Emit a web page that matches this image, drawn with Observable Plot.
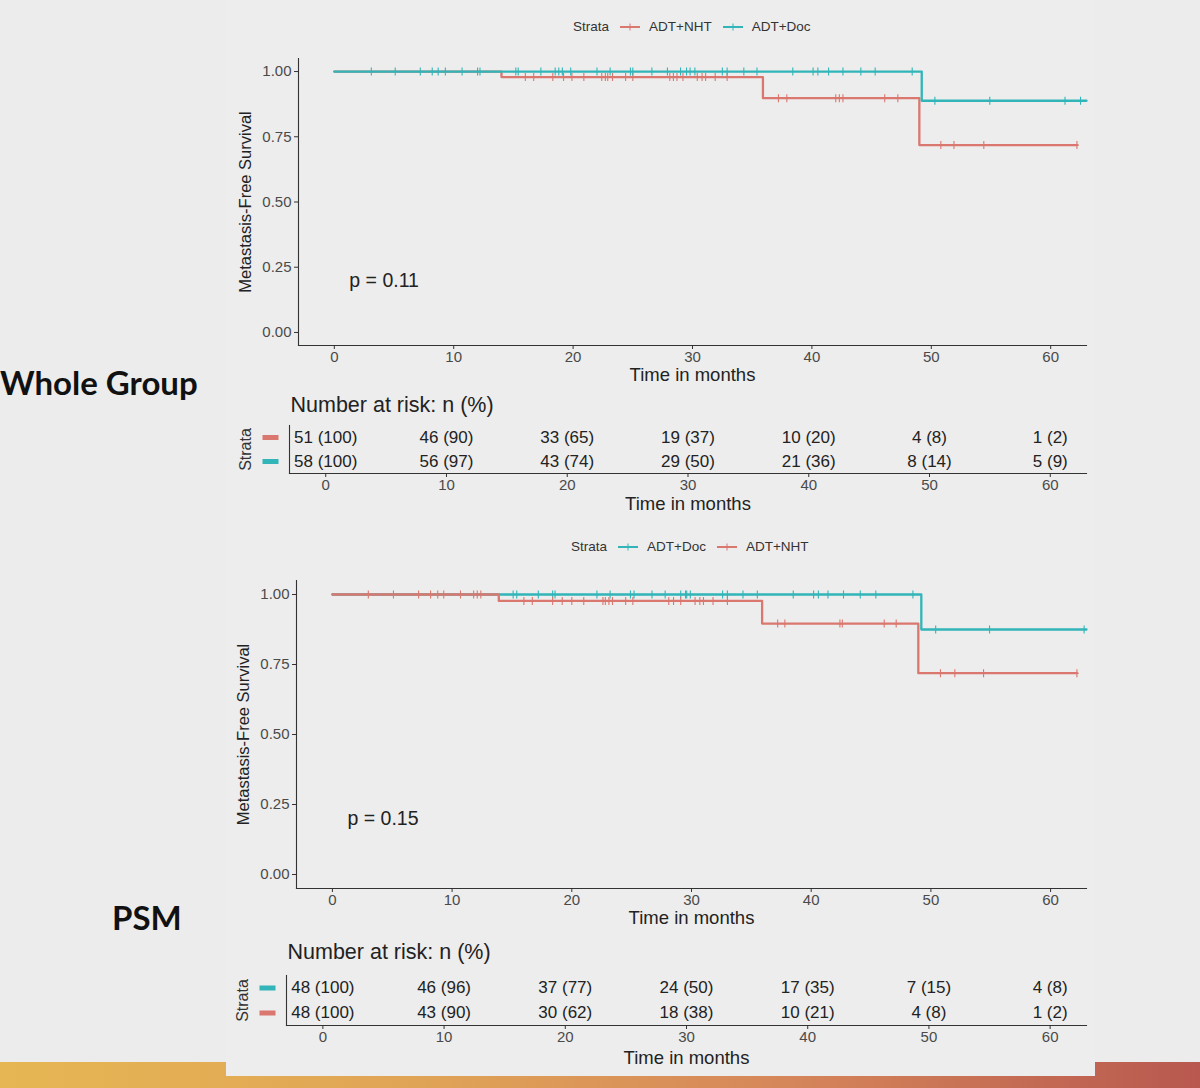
<!DOCTYPE html>
<html>
<head>
<meta charset="utf-8">
<script src="https://cdn.jsdelivr.net/npm/d3@7"></script>
<script src="https://cdn.jsdelivr.net/npm/@observablehq/plot@0.6"></script>
<style>
  body { margin: 0; background: #ececec; }
  #slide { position: relative; width: 1200px; height: 1088px; overflow: hidden; background: #ececec;
           font-family: "Liberation Sans", Arial, sans-serif; }
  .abs { position: absolute; }
  .bar { left: 0; top: 1062px; width: 1200px; height: 26px;
         background: linear-gradient(90deg, #e6b653 0%, #e0a456 35%, #d6875a 65%, #b8584f 100%); }
  .panel { left: 226px; top: 0; width: 869px; height: 1076px; background: #ededed; }
  .group { font-family: Lato, "Open Sans", sans-serif; font-weight: 700; font-size: 33px; color: #111;
           line-height: 40px; white-space: nowrap; }
  .legend { display: flex; align-items: center; font-size: 13.5px; color: #333; line-height: 16px; white-space: nowrap; }
  .legend svg { margin: 0 9px 0 11px; }
</style>
</head>
<body>
<div id="slide">
  <div class="abs bar"></div>
  <div class="abs panel"></div>
</div>
<script>
// ---- shared settings ----
const strataNames = ["ADT+NHT", "ADT+Doc"];
const strataColors = ["#da776f", "#31b5b8"];
const timeTicks = [0, 10, 20, 30, 40, 50, 60];
const survivalTicks = [0, 0.25, 0.5, 0.75, 1];

// ---- Whole group: Kaplan–Meier steps (event time -> survival after event) ----
const wgNhtEventTimes = [14.0, 35.9, 49.0];
const wgNhtSurvival = [0.979, 0.898, 0.718];
const wgNhtLastFollowUp = 62.2;
const wgNhtCensored = [16.0, 16.7, 18.3, 19.2, 19.9, 20.9, 22.4, 22.7, 22.9, 23.3, 24.4, 25.0,
  28.1, 28.4, 28.7, 29.2, 30.4, 30.8, 31.1, 31.9, 32.9, 37.2, 37.9, 42.0, 42.3, 42.6, 46.1, 47.2,
  50.8, 51.9, 54.4, 62.2];
const wgDocEventTimes = [49.2];
const wgDocSurvival = [0.888];
const wgDocLastFollowUp = 63.0;
const wgDocCensored = [3.1, 5.1, 7.2, 8.2, 8.7, 9.3, 10.7, 12.0, 12.2, 15.2, 15.4, 17.3, 18.5, 18.8,
  19.1, 19.8, 22.0, 23.1, 24.8, 25.0, 26.6, 27.9, 29.0, 29.5, 29.8, 30.2, 32.5, 32.9, 34.3, 35.4,
  38.4, 40.1, 40.5, 41.4, 42.6, 44.1, 45.3, 48.4, 50.3, 54.9, 61.2, 62.5];
const wgPValue = "p = 0.11";
const wgRiskNhtN = [51, 46, 33, 19, 10, 4, 1];
const wgRiskNhtPct = [100, 90, 65, 37, 20, 8, 2];
const wgRiskDocN = [58, 56, 43, 29, 21, 8, 5];
const wgRiskDocPct = [100, 97, 74, 50, 36, 14, 9];

// ---- Propensity-score matched cohort ----
const psmNhtEventTimes = [13.9, 35.9, 48.95];
const psmNhtSurvival = [0.977, 0.896, 0.719];
const psmNhtLastFollowUp = 62.2;
const psmNhtCensored = [3.0, 5.1, 7.2, 8.2, 8.8, 9.3, 10.7, 11.8, 12.1, 12.4, 16.0, 16.7, 18.4, 19.2,
  20.0, 21.0, 22.6, 22.8, 23.1, 23.4, 24.5, 25.1, 28.1, 28.5, 29.1, 30.3, 30.7, 31.0, 31.8, 33.0,
  37.2, 37.8, 42.4, 42.6, 46.1, 47.1, 50.8, 52.0, 54.4, 62.2];
const psmDocEventTimes = [49.2];
const psmDocSurvival = [0.875];
const psmDocLastFollowUp = 63.0;
const psmDocCensored = [15.1, 15.4, 17.2, 18.4, 18.6, 22.1, 23.2, 24.9, 25.2, 26.7, 27.8, 29.1, 29.5,
  29.6, 29.9, 32.6, 33.0, 34.3, 35.5, 38.5, 40.2, 40.6, 41.4, 42.7, 44.1, 45.4, 48.5, 50.4, 54.9, 62.8];
const psmPValue = "p = 0.15";
const psmRiskDocN = [48, 46, 37, 24, 17, 7, 4];
const psmRiskDocPct = [100, 96, 77, 50, 35, 15, 8];
const psmRiskNhtN = [48, 43, 30, 18, 10, 4, 1];
const psmRiskNhtPct = [100, 90, 62, 38, 21, 8, 2];

// ---- helpers ----
const slide = document.getElementById("slide");
const colorScale = {domain: strataNames, range: strataColors};
const span = timeTicks[timeTicks.length - 1] - timeTicks[0];
const timeDomain = [timeTicks[0] - 0.05 * span, timeTicks[timeTicks.length - 1] + 0.05 * span];
const survDomain = [-0.05, 1.05];
const font = "'Liberation Sans', Arial, sans-serif";

// "+" censor glyph and a flat bar swatch, as d3-style symbol objects
const censorSymbol = {draw(ctx, size) {
  const r = Math.sqrt(size / Math.PI);
  ctx.moveTo(0, -r); ctx.lineTo(0, r);
  ctx.moveTo(-r * 0.5, 0); ctx.lineTo(r * 0.5, 0);
}};
const barSymbol = {draw(ctx) { ctx.rect(-8, -2.5, 16, 5); }};

function survivalAt(t, events, surv) {
  let s = 1;
  events.forEach((e, i) => { if (t >= e) s = surv[i]; });
  return s;
}

function curve(name, events, surv, last, censored) {
  const steps = [{t: 0, s: 1, strata: name}]
    .concat(events.map((t, i) => ({t, s: surv[i], strata: name})))
    .concat([{t: last, s: surv[surv.length - 1], strata: name}]);
  const marks = censored.map(t => ({t, s: survivalAt(t, events, surv), strata: name}));
  return {steps, marks};
}

function place(node, top, left = 0) {
  const d = document.createElement("div");
  d.className = "abs";
  d.style.top = top + "px";
  d.style.left = left + "px";
  d.appendChild(node);
  slide.appendChild(d);
}

function legend(order, top, left) {
  const d = document.createElement("div");
  d.className = "abs legend";
  d.style.top = top + "px";
  d.style.left = left + "px";
  let html = "<span>Strata</span>";
  order.forEach(name => {
    const c = strataColors[strataNames.indexOf(name)];
    html += `<svg width="20" height="10"><line x1="0" x2="20" y1="5" y2="5" stroke="${c}" stroke-width="2"/>` +
            `<line x1="10" x2="10" y1="1.5" y2="8.5" stroke="${c}" stroke-width="1"/></svg><span>${name}</span>`;
  });
  d.innerHTML = html;
  slide.appendChild(d);
}

function groupLabel(text, top, style) {
  const d = document.createElement("div");
  d.className = "abs group";
  d.style.top = top + "px";
  Object.assign(d.style, style);
  d.textContent = text;
  slide.appendChild(d);
}

function kmPlot({curves, pValue, height, margins}) {
  const maxTime = d3.max(curves, c => d3.max(c.steps, d => d.t));
  const marks = [
    Plot.frame({anchor: "left", stroke: "#333", strokeWidth: 1.1}),
    Plot.frame({anchor: "bottom", stroke: "#333", strokeWidth: 1.1}),
    Plot.axisX(timeTicks, {tickSize: 4, tickPadding: 2, fontSize: 15, label: null, stroke: "#333", fill: "#4a4a4a"}),
    Plot.axisY(survivalTicks, {tickSize: 4, tickPadding: 3, fontSize: 15, label: null, tickFormat: d3.format(".2f"), stroke: "#333", fill: "#4a4a4a"}),
    Plot.text(["Time in months"], {frameAnchor: "bottom", lineAnchor: "middle", dy: 30, fontSize: 18.5, fill: "#222"}),
    Plot.text(["Metastasis-Free Survival"], {frameAnchor: "left", textAnchor: "middle", lineAnchor: "middle", dx: -53, rotate: -90, fontSize: 16.5, fill: "#222"}),
    Plot.text([pValue], {x: () => maxTime / 50, y: () => 0.2, textAnchor: "start", fontSize: 19.5, fill: "#222"})
  ];
  curves.forEach(c => {
    marks.push(Plot.line(c.steps, {x: "t", y: "s", stroke: "strata", curve: "step-after", strokeWidth: 2.3}));
    marks.push(Plot.dot(c.marks, {x: "t", y: "s", stroke: "strata", fill: "none", symbol: censorSymbol, r: 4, strokeWidth: 1.1}));
  });
  return Plot.plot({
    width: 1200, height, ...margins,
    style: {background: "transparent", fontFamily: font, color: "#333"},
    x: {domain: timeDomain, axis: null},
    y: {domain: survDomain, axis: null},
    color: colorScale,
    marks
  });
}

function riskTable({rows, height, margins, titleDy, headDy}) {
  const order = rows.map(r => r.name);
  const cells = rows.flatMap(r => timeTicks.map((t, i) => ({t, strata: r.name, label: `${r.n[i]} (${r.pct[i]})`})));
  return Plot.plot({
    width: 1200, height, ...margins,
    style: {background: "transparent", fontFamily: font, color: "#333"},
    x: {domain: timeDomain, axis: null},
    y: {type: "band", domain: order, padding: 0, axis: null},
    color: colorScale,
    marks: [
      Plot.frame({anchor: "left", stroke: "#333", strokeWidth: 1.1}),
      Plot.frame({anchor: "bottom", stroke: "#333", strokeWidth: 1.1}),
      Plot.axisX(timeTicks, {tickSize: 4, tickPadding: 2, fontSize: 15, label: null, stroke: "#333", fill: "#4a4a4a"}),
      Plot.text(["Time in months"], {frameAnchor: "bottom", lineAnchor: "middle", dy: titleDy, fontSize: 18.5, fill: "#222"}),
      Plot.text(["Number at risk: n (%)"], {frameAnchor: "top-left", lineAnchor: "middle", dy: headDy, dx: 1, textAnchor: "start", fontSize: 21.5, fill: "#222"}),
      Plot.text(["Strata"], {frameAnchor: "left", textAnchor: "middle", lineAnchor: "middle", dx: -44, rotate: -90, fontSize: 16, fill: "#333"}),
      Plot.dot(order, {y: d => d, frameAnchor: "left", dx: -19, symbol: barSymbol, fill: d => d, r: 3}),
      Plot.text(cells, {x: "t", y: "strata", text: "label", fontSize: 17, fill: "#222"})
    ]
  });
}

// ---- Whole group ----
groupLabel("Whole Group", 362, {left: "0px"});
legend(["ADT+NHT", "ADT+Doc"], 19, 573);
place(kmPlot({
  curves: [
    curve("ADT+NHT", wgNhtEventTimes, wgNhtSurvival, wgNhtLastFollowUp, wgNhtCensored),
    curve("ADT+Doc", wgDocEventTimes, wgDocSurvival, wgDocLastFollowUp, wgDocCensored)
  ],
  pValue: wgPValue,
  height: 395,
  margins: {marginTop: 58, marginBottom: 50, marginLeft: 298, marginRight: 114}
}), 0);
place(riskTable({
  rows: [
    {name: "ADT+NHT", n: wgRiskNhtN, pct: wgRiskNhtPct},
    {name: "ADT+Doc", n: wgRiskDocN, pct: wgRiskDocPct}
  ],
  height: 140,
  margins: {marginTop: 45, marginBottom: 47, marginLeft: 289, marginRight: 114},
  titleDy: 31, headDy: -20
}), 380);

// ---- PSM ----
groupLabel("PSM", 897, {left: "112px"});
legend(["ADT+Doc", "ADT+NHT"], 539, 571);
place(kmPlot({
  curves: [
    curve("ADT+Doc", psmDocEventTimes, psmDocSurvival, psmDocLastFollowUp, psmDocCensored),
    curve("ADT+NHT", psmNhtEventTimes, psmNhtSurvival, psmNhtLastFollowUp, psmNhtCensored)
  ],
  pValue: psmPValue,
  height: 410,
  margins: {marginTop: 60, marginBottom: 42, marginLeft: 296, marginRight: 114}
}), 520);
place(riskTable({
  rows: [
    {name: "ADT+Doc", n: psmRiskDocN, pct: psmRiskDocPct},
    {name: "ADT+NHT", n: psmRiskNhtN, pct: psmRiskNhtPct}
  ],
  height: 158,
  margins: {marginTop: 45, marginBottom: 63, marginLeft: 286, marginRight: 114},
  titleDy: 33, headDy: -23
}), 930);
</script>
</body>
</html>
